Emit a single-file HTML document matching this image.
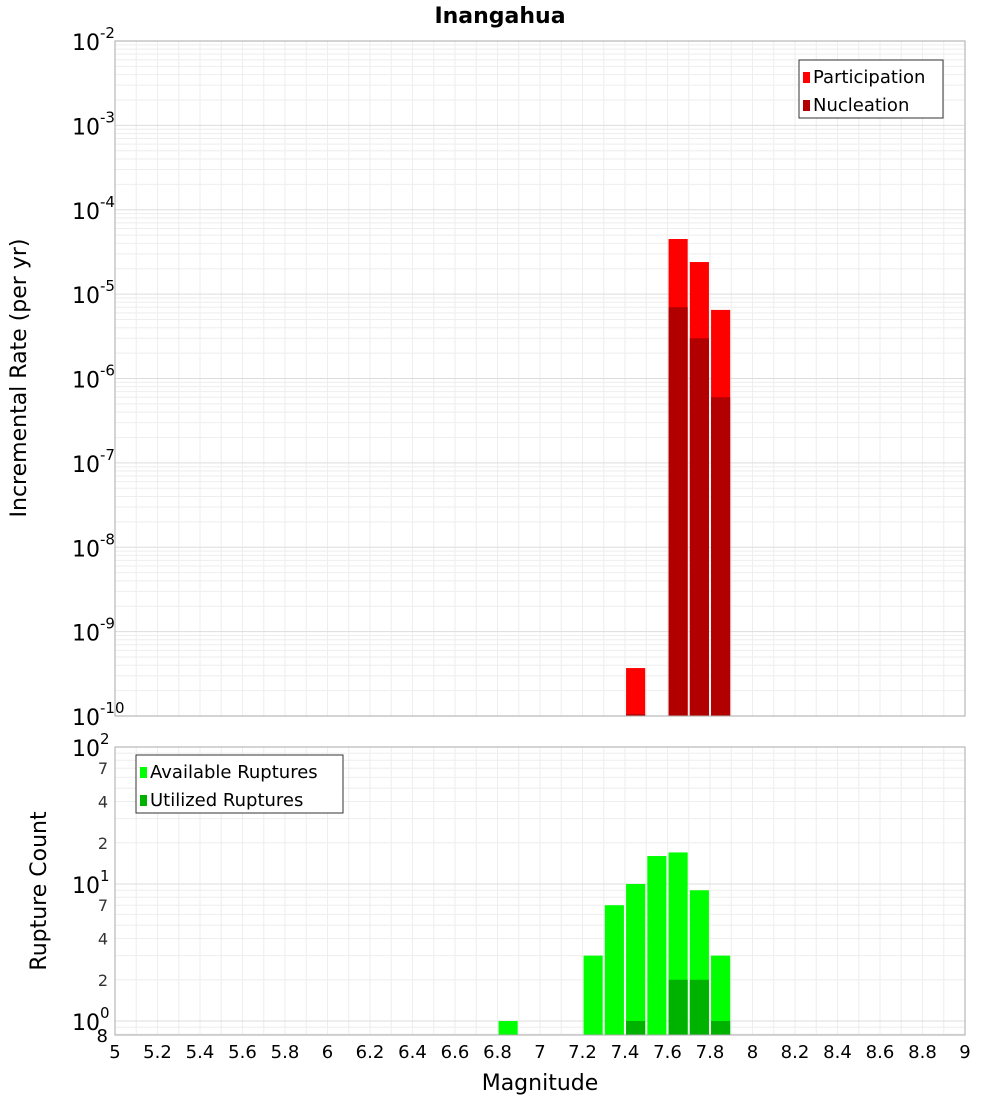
<!DOCTYPE html>
<html><head><meta charset="utf-8"><style>
body{margin:0;background:#fff;font-family:"Liberation Sans","DejaVu Sans",sans-serif}
</style></head><body>
<svg id="c" width="1000" height="1100" xmlns="http://www.w3.org/2000/svg" font-family="DejaVu Sans, Liberation Sans, sans-serif"></svg>
<script>
const binCenters=[7.45,7.65,7.75,7.85];
const participation=[3.7e-10,4.5e-5,2.4e-5,6.5e-6];
const nucleation=[1.05e-10,7e-6,3e-6,6e-7];
const countCenters=[6.85,7.25,7.35,7.45,7.55,7.65,7.75,7.85];
const available=[1,3,7,10,16,17,9,3];
const utilCenters=[7.45,7.65,7.75,7.85];
const utilized=[1,2,2,1];
const xTicks=[5,5.2,5.4,5.6,5.8,6,6.2,6.4,6.6,6.8,7,7.2,7.4,7.6,7.8,8,8.2,8.4,8.6,8.8,9];
const topExp=[-10,-9,-8,-7,-6,-5,-4,-3,-2];
const botMinor=[2,4,7,20,40,70];

const svg=document.getElementById('c');const NS='http://www.w3.org/2000/svg';
function el(t,a,txt){const e=document.createElementNS(NS,t);for(const k in a)e.setAttribute(k,a[k]);if(txt!=null)e.textContent=txt;svg.appendChild(e);return e;}
const X0=115,X1=965;
const x=v=>X0+(v-5)/4*(X1-X0);
const T0=41,T1=716;
const yT=v=>T0+(-2-Math.log10(v))/8*(T1-T0);
const B0=747,B1=1035;
const yB=v=>B0+(2-Math.log10(v))*137;

// frames bg
let r=el('rect',{x:X0,y:T0,width:X1-X0,height:T1-T0,fill:'#fff',stroke:'#aaa'});

r=el('rect',{x:X0,y:B0,width:X1-X0,height:B1-B0,fill:'#fff',stroke:'#aaa'});

// grids
for(let v=5;v<=9.001;v+=0.1){const xx=x(v);el('line',{x1:xx,x2:xx,y1:T0,y2:T1,stroke:'#eee'});el('line',{x1:xx,x2:xx,y1:B0,y2:B1,stroke:'#eee'});}
for(let e=-10;e<-2;e++)for(let m=1;m<10;m++){const yy=yT(m*Math.pow(10,e));el('line',{x1:X0,x2:X1,y1:yy,y2:yy,stroke:m==1?'#ddd':'#eee'});}
for(let e=-1;e<2;e++)for(let m=1;m<10;m++){const v=m*Math.pow(10,e);if(v<0.8)continue;const yy=yB(v);el('line',{x1:X0,x2:X1,y1:yy,y2:yy,stroke:m==1?'#ddd':'#eee'});}
// top bars
const bw=0.09;
binCenters.forEach((c,i)=>{
 let b=el('rect',{x:x(c-bw/2),y:yT(participation[i]),width:x(c+bw/2)-x(c-bw/2),height:T1-yT(participation[i]),fill:'#ff0000'});
 
 b=el('rect',{x:x(c-bw/2),y:yT(nucleation[i]),width:x(c+bw/2)-x(c-bw/2),height:T1-yT(nucleation[i]),fill:'#b20000'});
 
});
countCenters.forEach((c,i)=>{
 const b=el('rect',{x:x(c-bw/2),y:yB(available[i]),width:x(c+bw/2)-x(c-bw/2),height:B1-yB(available[i]),fill:'#00ff00'});
 
});
utilCenters.forEach((c,i)=>{
 const b=el('rect',{x:x(c-bw/2),y:yB(utilized[i]),width:x(c+bw/2)-x(c-bw/2),height:B1-yB(utilized[i]),fill:'#00b200'});
 
});
el('rect',{x:X0,y:T0,width:X1-X0,height:T1-T0,fill:'none',stroke:'#aaa'});
el('rect',{x:X0,y:B0,width:X1-X0,height:B1-B0,fill:'none',stroke:'#aaa'});
// top y labels
topExp.forEach(e=>{const yy=yT(Math.pow(10,e));
 const t=el('text',{x:72,y:yy+9,'font-size':22,fill:'#000'});
 t.appendChild(document.createTextNode('10'));const s=document.createElementNS(NS,'tspan');s.setAttribute('dy',-12);s.setAttribute('font-size',15);s.textContent=String(e);t.appendChild(s);});
// bottom y labels
[0,1,2].forEach(e=>{const yy=yB(Math.pow(10,e));
 const t=el('text',{x:72,y:yy+9,'font-size':22});
 t.appendChild(document.createTextNode('10'));const s=document.createElementNS(NS,'tspan');s.setAttribute('dy',-12);s.setAttribute('font-size',15);s.textContent=String(e);t.appendChild(s);});
botMinor.forEach(v=>{const t=el('text',{x:108,y:yB(v)+6,'font-size':16,'text-anchor':'end',fill:'#333'},String(v).charAt(0));});
let t8=el('text',{x:108,y:1042,'font-size':18,'text-anchor':'end'},'8');
// x labels
xTicks.forEach(v=>{const t=el('text',{x:x(v),y:1058,'font-size':18,'text-anchor':'middle'},String(v));});
let t=el('text',{x:540,y:1090,'font-size':22,'text-anchor':'middle'},'Magnitude');
t=el('text',{x:500,y:23,'font-size':22,'font-weight':'bold','text-anchor':'middle'},'Inangahua');
t=el('text',{x:0,y:0,'font-size':22,'text-anchor':'middle',transform:'translate(26,378) rotate(-90)'},'Incremental Rate (per yr)');
t=el('text',{x:0,y:0,'font-size':22,'text-anchor':'middle',transform:'translate(46,891) rotate(-90)'},'Rupture Count');
// legends
function legend(x0,y0,w,items,name){const g=el('rect',{x:x0,y:y0,width:w,height:58,fill:'#fff',stroke:'#333'});
 items.forEach((it,i)=>{el('rect',{x:x0+4,y:y0+12+i*28,width:7,height:11,fill:it[1]});
 const tt=el('text',{x:x0+14,y:y0+23+i*28,'font-size':18},it[0]);});}
legend(799,60,144,[['Participation','#ff0000'],['Nucleation','#b20000']],'top-legend');
legend(136,755,207,[['Available Ruptures','#00ff00'],['Utilized Ruptures','#00b200']],'bottom-legend');
</script>
</body></html>
